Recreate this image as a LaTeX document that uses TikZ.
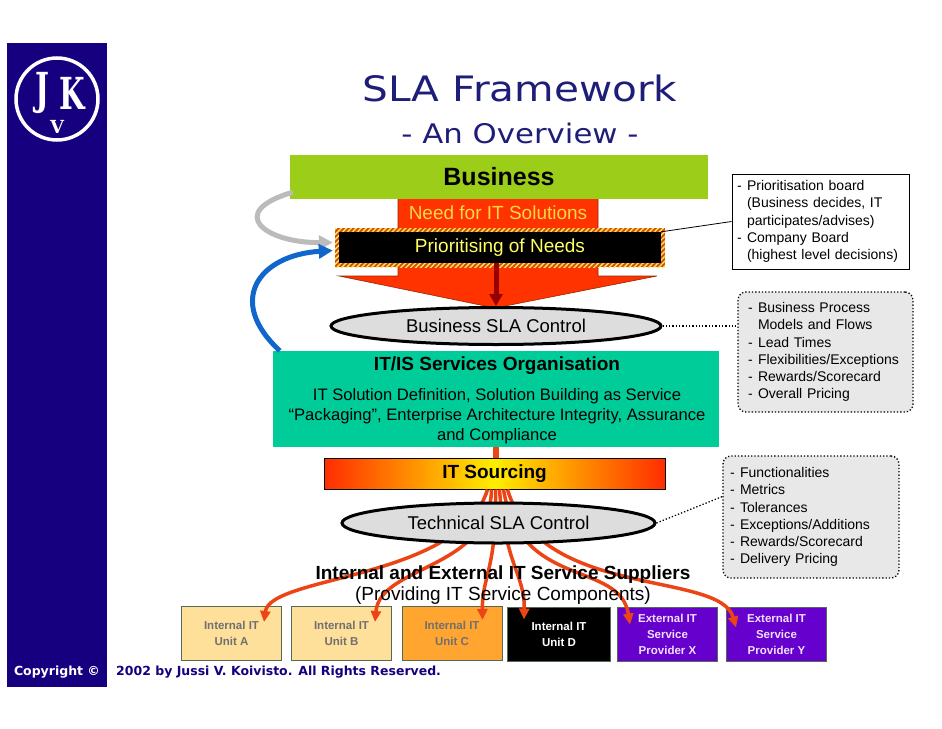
\documentclass[tikz,border=0pt]{standalone}
\usepackage{fontspec}
\setmainfont{Liberation Sans}
\newfontfamily\headfont{DejaVu Sans}
\newfontfamily\logofont{DejaVu Serif}
\usepackage{tikz}
\usetikzlibrary{arrows.meta,shapes.geometric,patterns.meta,calc,positioning}

\definecolor{sidenavy}{RGB}{22,0,128}
\definecolor{titlenavy}{RGB}{30,30,120}
\definecolor{bizgreen}{RGB}{155,205,25}
\definecolor{blockred}{RGB}{255,51,0}
\definecolor{blockedge}{RGB}{150,40,0}
\definecolor{needyellow}{RGB}{255,215,70}
\definecolor{prioyellow}{RGB}{255,255,100}
\definecolor{hatchbase}{RGB}{210,80,10}
\definecolor{hatchyellow}{RGB}{255,230,90}
\definecolor{darkred}{RGB}{150,0,0}
\definecolor{ellgray}{RGB}{221,221,221}
\definecolor{itisteal}{RGB}{0,204,153}
\definecolor{srcred}{RGB}{255,45,0}
\definecolor{srcyellow}{RGB}{255,238,0}
\definecolor{supplyred}{RGB}{236,68,20}
\definecolor{unitlight}{RGB}{255,224,154}
\definecolor{unitorange}{RGB}{255,165,48}
\definecolor{unitpurple}{RGB}{102,0,204}
\definecolor{unitedge}{RGB}{85,105,85}
\definecolor{unitgray}{RGB}{112,112,112}
\definecolor{purpletext}{RGB}{240,224,255}
\definecolor{notegray}{RGB}{232,232,232}
\definecolor{arrowgray}{RGB}{187,187,187}
\definecolor{arrowblue}{RGB}{17,102,204}

\newcommand{\fsz}[2]{\fontsize{#1}{#2}\selectfont}
\newcommand{\dashitem}{\makebox[10pt][l]{-}}
\newcommand{\contitem}{\hspace*{10pt}}

\tikzset{
  supply/.style={draw=supplyred, line width=3.5pt, -{Triangle[length=11pt,width=10pt]}},
  unitbox/.style={draw=unitedge, line width=1pt, minimum width=100pt, minimum height=54pt,
    align=center, font=\bfseries\fsz{11.5}{16}},
  slactrl/.style={ellipse, draw=black, line width=3pt, fill=ellgray, font=\fsz{18.5}{18.5}},
  notebox/.style={align=left, font=\fsz{14}{17.2}},
  dotbox/.style={notebox, draw=black, dotted, line width=1.3pt, rounded corners=8pt, fill=notegray},
  logoletter/.style={text=white, font=\logofont\bfseries\fsz{42}{42}},
}

\begin{document}
\begin{tikzpicture}[x=1pt, y=-1pt, every node/.style={inner sep=0pt}]
  \useasboundingbox (0,0) rectangle (942,728);
  % side bar with logo
  \fill[sidenavy] (7,43) rectangle (107,687);
  \draw[white, line width=3.5pt] (57,99) circle [radius=41];
  \node[logoletter] (logoJ) at (42,93) {\scalebox{0.7}[1.05]{J}};
  \node[logoletter] (logoK) at (72,93) {\scalebox{0.7}[1.05]{K}};
  \node[text=white, font=\logofont\bfseries\fsz{18}{18}] (logoV) at (57,127) {V};
  \node[text=white, font=\headfont\bfseries\fsz{12.5}{12.5}] (copyright) at (57,672) {Copyright ©};
  \node[text=sidenavy, font=\headfont\bfseries\fsz{12.5}{12.5}, anchor=west] (rights) at (116,672) {2002 by Jussi V. Koivisto. All Rights Reserved.};
  \node[text=titlenavy, font=\headfont\fsz{35}{35}] (title) at (520,88) {\scalebox{1.16}[1]{SLA Framework}};
  \node[text=titlenavy, font=\headfont\fsz{27}{27}] (subtitle) at (520,133) {\scalebox{1.14}[1]{- An Overview -}};
  % business demand
  \filldraw[fill=blockred, draw=blockedge, line width=0.6pt] (398,190) -- (598,190) -- (598,276) -- (657,276)
    -- (495,308) -- (339,276) -- (398,276) -- cycle;
  \node[fill=bizgreen, minimum width=418pt, minimum height=44pt, font=\bfseries\fsz{25}{25}] (business) at (499,177) {Business};
  \node[text=needyellow, font=\fsz{19}{19}] (need) at (498,213) {Need for IT Solutions};
  \fill[hatchbase] (335,228) rectangle (665,267);
  \fill[pattern={Lines[angle=45,distance=3.5pt,line width=1.4pt]}, pattern color=hatchyellow] (335,228) rectangle (665,267);
  \node[fill=black, minimum width=322pt, minimum height=31pt, text=prioyellow, font=\fsz{19}{19}] (prio) at (500,247.5) {Prioritising of Needs};
  \node[slactrl, minimum width=330pt, minimum height=37pt] (busSLA) at (496,326) {Business SLA Control};
  \draw[darkred, line width=5pt, -{Triangle[length=12pt,width=13pt]}] (prio.south -| busSLA.north) -- (busSLA.north);
  \draw[arrowgray, line width=5pt, -{Triangle[length=14pt,width=14pt]}] ([xshift=3pt,yshift=7pt]business.south west)
    .. controls (225,212) and (265,243) .. ([xshift=-6pt,yshift=5pt]prio.west);
  % IT organisation and sourcing
  \node[fill=itisteal, minimum width=446pt, minimum height=96pt] (itis) at (496,399) {};
  \node[font=\bfseries\fsz{19}{19}] (itistitle) at (497,366) {IT/IS Services Organisation};
  \node[align=center, font=\fsz{16.6}{20}] (itisbody) at (497,416) {IT Solution Definition, Solution Building as Service\\“Packaging”, Enterprise Architecture Integrity, Assurance\\and Compliance};
  \draw[arrowblue, line width=5pt, -{Triangle[length=14pt,width=14pt]}] ([xshift=7pt]itis.north west)
    .. controls (225,300) and (260,255) .. ([xshift=-6pt,yshift=-3pt]prio.west);
  \node[draw=black, line width=1pt, left color=srcred, right color=srcred, middle color=srcyellow,
    minimum width=341pt, minimum height=31pt, font=\bfseries\fsz{19}{19}] (sourcing) at (494.5,473.5) {IT Sourcing};
  \draw[supplyred, line width=6pt] (itis.south) -- (itis.south |- sourcing.north);
  % suppliers
  \node[unitbox, fill=unitlight, text=unitgray] (unitA) at (231.5,633.5) {Internal IT\\Unit A};
  \node[unitbox, fill=unitlight, text=unitgray] (unitB) at (341.5,633.5) {Internal IT\\Unit B};
  \node[unitbox, fill=unitorange, text=unitgray] (unitC) at (452,633.5) {Internal IT\\Unit C};
  \node[unitbox, fill=black, text=white, minimum width=103pt] (unitD) at (559,634) {Internal IT\\Unit D};
  \node[unitbox, fill=unitpurple, text=purpletext] (unitX) at (667.5,634) {External IT\\Service\\Provider X};
  \node[unitbox, fill=unitpurple, text=purpletext] (unitY) at (776.5,634) {External IT\\Service\\Provider Y};
  \coordinate (tipA) at ([xshift=-18pt,yshift=-16pt]unitA.north east);
  \coordinate (tipB) at ([xshift=-17pt,yshift=-16pt]unitB.north east);
  \coordinate (tipC) at ([xshift=-20pt,yshift=-14pt]unitC.north east);
  \coordinate (tipD) at ([xshift=17pt,yshift=-13pt]unitD.north west);
  \coordinate (tipX) at ([xshift=13pt,yshift=-18pt]unitX.north west);
  \coordinate (tipY) at ([xshift=10pt,yshift=-21pt]unitY.north west);
  \draw[supply] ([xshift=-7pt]sourcing.south) .. controls (460,580) and (270,575) .. (tipA);
  \draw[supply] ([xshift=-3pt]sourcing.south) .. controls (490,570) and (380,565) .. (tipB);
  \draw[supply] ([xshift=1pt]sourcing.south) .. controls (497,570) and (482,575) .. (tipC);
  \draw[supply] ([xshift=5pt]sourcing.south) .. controls (505,565) and (525,575) .. (tipD);
  \draw[supply] ([xshift=9pt]sourcing.south) .. controls (520,590) and (620,560) .. (tipX);
  \draw[supply] ([xshift=13pt]sourcing.south) .. controls (540,600) and (720,570) .. (tipY);
  \node[slactrl, minimum width=313pt, minimum height=40pt] (techSLA) at (498.5,523) {Technical SLA Control};
  \node[font=\bfseries\fsz{19}{19}] (suppliers) at (503,575) {Internal and External IT Service Suppliers};
  \node[font=\fsz{19}{19}] (providing) at (503,596) {(Providing IT Service Components)};
  % notes
  \node[notebox, draw=black, line width=0.8pt, fill=white, text width=167pt, inner xsep=5pt, minimum height=95pt] (board) at (820.5,221.5)
    {\dashitem Prioritisation board\\\contitem (Business decides, IT\\\contitem participates/advises)\\\dashitem Company Board\\\contitem (highest level decisions)};
  \node[dotbox, text width=155pt, inner xsep=10pt, minimum height=120pt] (bizpts) at (825.5,352)
    {\dashitem Business Process\\\contitem Models and Flows\\\dashitem Lead Times\\\dashitem Flexibilities/Exceptions\\\dashitem Rewards/Scorecard\\\dashitem Overall Pricing};
  \node[dotbox, text width=162pt, inner xsep=7pt, minimum height=122pt] (techpts) at (811,517)
    {\dashitem Functionalities\\\dashitem Metrics\\\dashitem Tolerances\\\dashitem Exceptions/Additions\\\dashitem Rewards/Scorecard\\\dashitem Delivery Pricing};
  \draw[line width=0.8pt] (prio.north east) -- (board.west);
  \draw[dotted, line width=1.3pt] (busSLA.east) -- (busSLA.east -| bizpts.west);
  \draw[dotted, line width=1.3pt] (techSLA.east) -- (techpts.167);
\end{tikzpicture}
\end{document}
